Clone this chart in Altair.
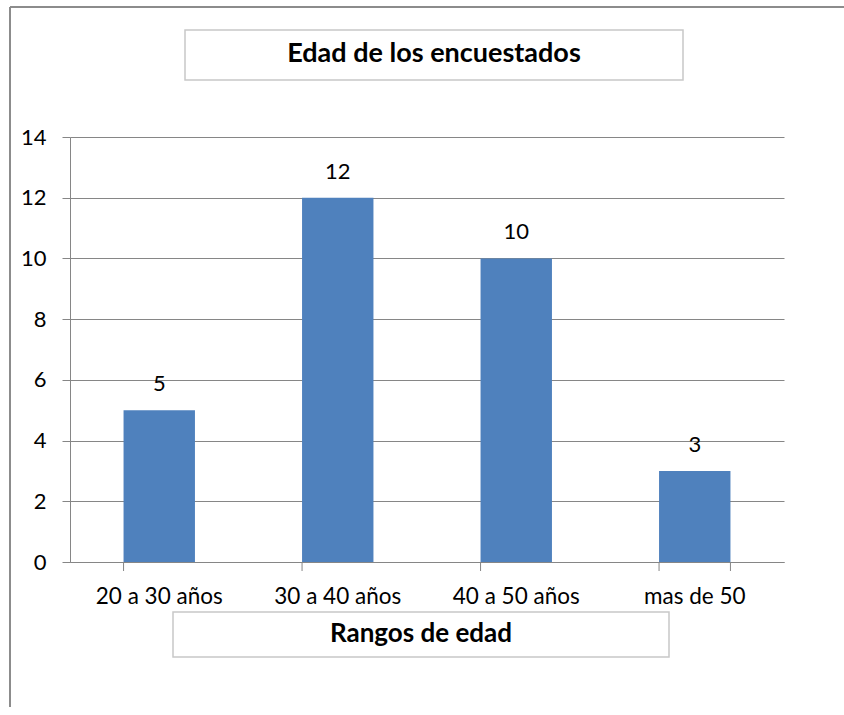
import altair as alt
import pandas as pd

categories = ["20 a 30 años", "30 a 40 años", "40 a 50 años", "mas de 50"]
values = [5, 12, 10, 3]
title_text = "Edad de los encuestados"
x_title_text = "Rangos de edad"
y_ticks = [0, 2, 4, 6, 8, 10, 12, 14]

df = pd.DataFrame({"cat": categories, "val": values})

W, H = 714, 425
FONT = "Lato"
GRAY = "#868686"
BAR = "#4F81BD"

xscale = alt.Scale(domain=categories, paddingInner=0.6, paddingOuter=0.3)
yscale = alt.Scale(domain=[0, 14], nice=False)

base = alt.Chart(df)

bars = base.mark_bar(color=BAR).encode(
    x=alt.X("cat:N", scale=xscale, sort=categories,
            axis=alt.Axis(title=None, labelAngle=0, ticks=False, domain=True,
                          domainColor=GRAY, labelFont=FONT, labelFontSize=22.5,
                          labelColor="#000", labelPadding=34, labelBaseline="middle")),
    y=alt.Y("val:Q", scale=yscale,
            axis=alt.Axis(title=None, values=y_ticks, grid=True, gridColor=GRAY,
                          domainColor=GRAY, tickColor=GRAY, tickSize=8,
                          labelFont=FONT, labelFontSize=22, labelColor="#000",
                          labelPadding=16)),
)

labels = base.mark_text(font=FONT, fontSize=22, baseline="middle", dy=-26, color="#000").encode(
    x=alt.X("cat:N", scale=xscale, sort=categories),
    y=alt.Y("val:Q", scale=yscale),
    text="val:Q",
)

xticks = base.mark_rule(color=GRAY).encode(
    x=alt.X("cat:N", scale=xscale, sort=categories, bandPosition=0),
    y=alt.value(H), y2=alt.value(H + 9),
)
last_tick = alt.Chart(df.tail(1)).mark_rule(color=GRAY).encode(
    x=alt.X("cat:N", scale=xscale, sort=categories, bandPosition=1),
    y=alt.value(H), y2=alt.value(H + 9),
)

border_top = alt.Chart(df.head(1)).mark_rule(color="#8c8c8c", strokeWidth=2).encode(
    x=alt.value(-60), x2=alt.value(W + 60), y=alt.value(-130),
)
border_left = alt.Chart(df.head(1)).mark_rule(color="#8c8c8c", strokeWidth=2).encode(
    x=alt.value(-60), y=alt.value(-130), y2=alt.value(H + 145),
)

title_box = alt.Chart(df.head(1)).mark_rect(fill="white", stroke="#c8c8c8", strokeWidth=1.5).encode(
    x=alt.value(115), x2=alt.value(613), y=alt.value(-107), y2=alt.value(-57),
)
title_lbl = alt.Chart(pd.DataFrame({"t": [title_text]})).mark_text(
    font=FONT, fontSize=27, fontWeight="bold", color="#000", baseline="middle", align="center"
).encode(x=alt.value(364), y=alt.value(-83), text="t:N")

xt_box = alt.Chart(df.head(1)).mark_rect(fill="white", stroke="#c8c8c8", strokeWidth=1.5).encode(
    x=alt.value(103), x2=alt.value(599), y=alt.value(475), y2=alt.value(520),
)
xt_lbl = alt.Chart(pd.DataFrame({"t": [x_title_text]})).mark_text(
    font=FONT, fontSize=26, fontWeight="bold", color="#000", baseline="middle", align="center"
).encode(x=alt.value(351), y=alt.value(497), text="t:N")

chart = alt.layer(
    border_top, border_left, bars, labels, xticks, last_tick, title_box, title_lbl, xt_box, xt_lbl
).properties(
    width=W, height=H,
    autosize=alt.AutoSizeParams(type="none"),
    padding={"left": 70, "top": 137, "right": 60, "bottom": 145},
    background="white",
).configure_view(strokeOpacity=0, strokeWidth=0)

chart.save("out.html", embed_options={"renderer": "svg", "actions": False})
